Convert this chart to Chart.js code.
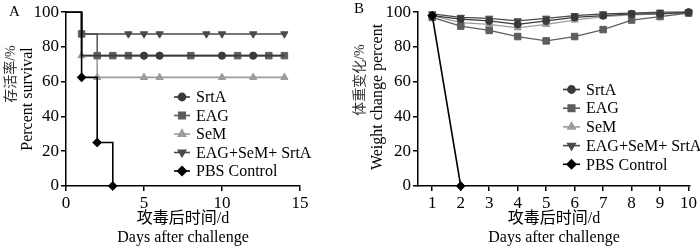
<!DOCTYPE html>
<html>
<head>
<meta charset="utf-8">
<script src="https://cdn.jsdelivr.net/npm/chart.js@4.4.1/dist/chart.umd.min.js"></script>
<style>
html, body { margin: 0; padding: 0; background: #fff; }
#wrap { position: relative; width: 700px; height: 247px; }
canvas { position: absolute; top: 0; }
</style>
</head>
<body>
<div id="wrap">
  <canvas id="survival" width="350" height="247" style="left:0"></canvas>
  <canvas id="weight" width="350" height="247" style="left:350px"></canvas>
</div>
<script>
const groups = ['SrtA', 'EAG', 'SeM', 'EAG+SeM+ SrtA', 'PBS Control'];

// panel A: survival steps [day, %] and days that carry a symbol
const srtaSteps = [[0, 100], [1, 75], [14, 75]];
const eagSteps = [[0, 100], [1, 87.5], [2, 75], [14, 75]];
const semSteps = [[0, 100], [1, 75], [2, 62.5], [14, 62.5]];
const comboSteps = [[0, 100], [1, 87.5], [14, 87.5]];
const pbsSteps = [[0, 100], [1, 62.5], [2, 25], [3, 0]];

const srtaMarks = [5, 6, 10, 12];
const eagMarks = [1, 2, 3, 4, 8, 11, 13, 14];
const semMarks = [1, 2, 5, 6, 10, 12, 14];
const comboMarks = [4, 5, 6, 9, 10, 12, 14];
const pbsMarks = [1, 2, 3];

const survivalTicks = [0, 5, 10, 15];

// panel B: weight change %, days 1-10
const days = [1, 2, 3, 4, 5, 6, 7, 8, 9, 10];
const srtaWeight = [98, 96, 95, 93, 95, 97, 98, 99, 99, 100];
const eagWeight = [97, 92, 89.5, 86, 83.5, 86, 90, 95.5, 97.5, 99.5];
const semWeight = [98, 94, 93, 91, 93, 95.5, 97.5, 98.5, 99, 99.5];
const comboWeight = [99, 97, 96.5, 95, 96.5, 98, 99, 99.5, 100, 100];
const pbsWeight = [98, 0];

const yTicks = [0, 20, 40, 60, 80, 100];

const styles = [
  { color: '#3a3a3a', pointStyle: 'circle', radius: 3.6, rotation: 0 },
  { color: '#5e5e5e', pointStyle: 'rect', radius: 4.6, rotation: 0 },
  { color: '#9c9c9c', pointStyle: 'triangle', radius: 4.2, rotation: 0 },
  { color: '#4a4a4a', pointStyle: 'triangle', radius: 4.2, rotation: 180 },
  { color: '#000000', pointStyle: 'rectRot', radius: 4.4, rotation: 0 }
];

const FONT = "'Liberation Serif', 'Noto Sans CJK SC', serif";
Chart.defaults.font.family = FONT;
Chart.defaults.font.size = 16;
Chart.defaults.color = '#000';

function stepData(steps, marks) {
  const valueAt = d => {
    let v = steps[0][1];
    steps.forEach(s => { if (s[0] <= d) v = s[1]; });
    return v;
  };
  const xs = Array.from(new Set(steps.map(s => s[0]).concat(marks))).sort((a, b) => a - b);
  return xs.map(x => {
    const exact = steps.filter(s => s[0] === x);
    return { x: x, y: exact.length ? exact[exact.length - 1][1] : valueAt(x) };
  });
}

// legend, panel letter and the two-line y title (each line its own size)
const legendPlugin = {
  id: 'sideLegend',
  afterDatasetsDraw(chart, args, opts) {
    const ctx = chart.ctx;
    ctx.save();
    chart.data.datasets.forEach((ds, i) => {
      const st = styles[i];
      const y = opts.y + i * opts.gap;
      ctx.strokeStyle = st.color;
      ctx.fillStyle = st.color;
      ctx.lineWidth = 1.6;
      ctx.beginPath();
      ctx.moveTo(opts.x, y);
      ctx.lineTo(opts.x + opts.len, y);
      ctx.stroke();
      Chart.helpers.drawPoint(ctx, { pointStyle: st.pointStyle, rotation: st.rotation, radius: st.radius, borderWidth: 1 }, opts.x + opts.len / 2, y);
      ctx.fillStyle = '#000';
      ctx.font = '16px ' + FONT;
      ctx.textBaseline = 'middle';
      ctx.textAlign = 'left';
      ctx.fillText(ds.label, opts.x + opts.len + 6, y + 1);
    });
    ctx.fillStyle = '#000';
    ctx.font = '15px ' + FONT;
    ctx.textBaseline = 'middle';
    ctx.fillText(opts.tag, opts.tagX, opts.tagY);
    opts.yTitle.forEach(t => {
      ctx.save();
      ctx.translate(t.x, t.y);
      ctx.rotate(-Math.PI / 2);
      ctx.font = t.size + 'px ' + FONT;
      ctx.fillStyle = t.color;
      ctx.textAlign = 'center';
      ctx.textBaseline = 'middle';
      ctx.fillText(t.text, 0, 0);
      ctx.restore();
    });
    ctx.restore();
  }
};

function axis(extra) {
  const base = {
    type: 'linear',
    grid: { display: true, drawOnChartArea: false, drawTicks: true, tickLength: 5, color: '#000', lineWidth: 1.5 },
    border: { display: true, color: '#000', width: 1.5 }
  };
  return Object.assign(base, extra);
}

function lineDataset(i, data, marks, extra) {
  const st = styles[i];
  return Object.assign({
    label: groups[i],
    data: data,
    borderColor: st.color,
    backgroundColor: st.color,
    borderWidth: 1.6,
    pointStyle: st.pointStyle,
    pointRotation: st.rotation,
    pointBorderWidth: 1,
    pointRadius: marks ? (c => marks.includes(c.raw.x) ? st.radius : 0) : st.radius,
    fill: false,
    order: [1, 3, 4, 2, 0][i]
  }, extra || {});
}

const xTitleCfg = { display: true, text: ['攻毒后时间/d', 'Days after challenge'], font: { size: 16, lineHeight: 1.2 }, padding: { top: 0, bottom: -0.5 } };
const tickCfg = { color: '#000', font: { size: 17 }, maxRotation: 0 };

new Chart(document.getElementById('survival'), {
  type: 'line',
  data: {
    datasets: [
      lineDataset(0, stepData(srtaSteps, srtaMarks), srtaMarks, { stepped: true }),
      lineDataset(1, stepData(eagSteps, eagMarks), eagMarks, { stepped: true }),
      lineDataset(2, stepData(semSteps, semMarks), semMarks, { stepped: true }),
      lineDataset(3, stepData(comboSteps, comboMarks), comboMarks, { stepped: true }),
      lineDataset(4, stepData(pbsSteps, pbsMarks), pbsMarks, { stepped: true })
    ]
  },
  options: {
    responsive: false,
    animation: false,
    clip: false,
    layout: { padding: { left: 0, right: 50, top: 8, bottom: 0 } },
    plugins: {
      legend: { display: false },
      tooltip: { enabled: false },
      sideLegend: {
        x: 174, y: 97, gap: 18.5, len: 16, tag: 'A', tagX: 9, tagY: 12,
        yTitle: [
          { text: '存活率/%', x: 11, y: 74, size: 14, color: '#333' },
          { text: 'Percent survival', x: 28, y: 99, size: 16, color: '#000' }
        ]
      }
    },
    scales: {
      x: axis({
        min: 0, max: 15,
        afterBuildTicks: s => { s.ticks = survivalTicks.map(v => ({ value: v })); },
        ticks: Object.assign({ padding: 2 }, tickCfg),
        title: xTitleCfg,
        afterFit: s => { s.height = 61; }
      }),
      y: axis({
        min: 0, max: 100,
        afterBuildTicks: s => { s.ticks = yTicks.map(v => ({ value: v })); },
        ticks: Object.assign({ padding: 2 }, tickCfg),
        afterFit: s => { s.width = 66; }
      })
    }
  },
  plugins: [legendPlugin]
});

const pts = arr => arr.map((v, k) => ({ x: days[k], y: v }));

new Chart(document.getElementById('weight'), {
  type: 'line',
  data: {
    datasets: [
      lineDataset(0, pts(srtaWeight), null, { borderWidth: 1.3 }),
      lineDataset(1, pts(eagWeight), null, { borderWidth: 1.3 }),
      lineDataset(2, pts(semWeight), null, { borderWidth: 1.3 }),
      lineDataset(3, pts(comboWeight), null, { borderWidth: 1.3 }),
      lineDataset(4, pts(pbsWeight), null, { borderWidth: 1.6 })
    ]
  },
  options: {
    responsive: false,
    animation: false,
    clip: false,
    layout: { padding: { left: 0, right: 10, top: 8, bottom: 0 } },
    plugins: {
      legend: { display: false },
      tooltip: { enabled: false },
      sideLegend: {
        x: 213, y: 89.5, gap: 18.7, len: 17, tag: 'B', tagX: 4, tagY: 9,
        yTitle: [
          { text: '体重变化/%', x: 10, y: 80, size: 14, color: '#333' },
          { text: 'Weight change percent', x: 28, y: 97, size: 16, color: '#000' }
        ]
      }
    },
    scales: {
      x: axis({
        min: 0.5, max: 10.05,
        afterBuildTicks: s => { s.ticks = days.map(v => ({ value: v })); },
        ticks: Object.assign({ padding: 2 }, tickCfg),
        title: xTitleCfg,
        afterFit: s => { s.height = 61; }
      }),
      y: axis({
        min: 0, max: 100,
        afterBuildTicks: s => { s.ticks = yTicks.map(v => ({ value: v })); },
        ticks: Object.assign({ padding: 2 }, tickCfg),
        afterFit: s => { s.width = 68; }
      })
    }
  },
  plugins: [legendPlugin]
});
</script>
</body>
</html>
